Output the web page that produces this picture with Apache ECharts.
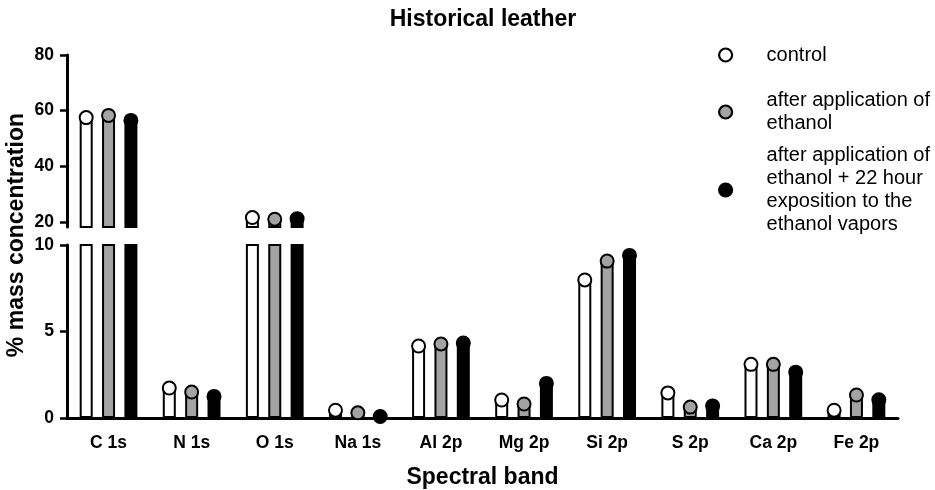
<!DOCTYPE html>
<html>
<head>
<meta charset="utf-8">
<script src="https://cdn.jsdelivr.net/npm/echarts@6/dist/echarts.min.js"></script>
<style>
  html, body { margin: 0; padding: 0; background: #fff; }
  #main { width: 935px; height: 490px; }
</style>
</head>
<body>
<div id="main"></div>
<script>
var categories = ['C 1s', 'N 1s', 'O 1s', 'Na 1s', 'Al 2p', 'Mg 2p', 'Si 2p', 'S 2p', 'Ca 2p', 'Fe 2p'];
var control = [57.5, 1.73, 21.6, 0.45, 4.16, 1.04, 7.98, 1.45, 3.1, 0.45];
var ethanol = [58.3, 1.5, 21.0, 0.3, 4.28, 0.81, 9.07, 0.63, 3.1, 1.33];
var ethanolVapors = [56.5, 1.25, 21.2, 0.05, 4.33, 2.0, 9.4, 0.7, 2.65, 1.05];
var upperTicks = [20, 40, 60, 80];
var lowerTicks = [0, 5, 10];
var upperMin = 18.2;   // axis runs a little below the 20 tick, as in the broken axis

var groups = [
  { name: 'control', label: 'control', data: control, fill: '#ffffff' },
  { name: 'after application of ethanol', label: 'after application of\nethanol', data: ethanol, fill: '#a3a3a3' },
  { name: 'after application of ethanol + 22 hour exposition to the ethanol vapors',
    label: 'after application of\nethanol + 22 hour\nexposition to the\nethanol vapors', data: ethanolVapors, fill: '#000000' }
];

var font = 'Liberation Sans, Arial, sans-serif';
var chart = echarts.init(document.getElementById('main'));

// bars in the upper (20-80) and lower (0-10) parts of the broken axis,
// each topped by a round marker drawn as the bar label
var series = [];
groups.forEach(function (g) {
  var upper = g.data.map(function (v) { return v > upperTicks[0] ? v : '-'; });
  [[0, upper, upperTicks[upperTicks.length - 1]], [1, g.data, lowerTicks[lowerTicks.length - 1]]].forEach(function (p) {
    var top = p[2];
    series.push({
      name: g.name, type: 'bar', xAxisIndex: p[0], yAxisIndex: p[0],
      data: p[1], barWidth: 13, barGap: '72%', clip: true,
      itemStyle: { color: g.fill, borderColor: '#000', borderWidth: 2 },
      label: {
        show: true, position: 'top', distance: -5.5,
        formatter: function (d) { return d.value > top ? '' : '{m| }'; },
        rich: {
          m: { width: 11, height: 11, lineHeight: 11, fontSize: 8, borderRadius: 6,
               backgroundColor: g.fill, borderColor: '#000', borderWidth: 2 }
        }
      }
    });
  });
});

var legendCenters = [55, 112, 190];
var legends = groups.map(function (g, i) {
  var lines = g.label.split('\n').length;
  return {
    orient: 'vertical', left: 718, top: legendCenters[i] - lines * 23 / 2, padding: 0,
    itemWidth: 40, itemHeight: 13, selectedMode: false,
    data: [{ name: g.name, icon: 'circle', itemStyle: { color: g.fill, borderColor: '#000', borderWidth: 2.2 } }],
    formatter: function () { return g.label; },
    textStyle: { fontFamily: font, fontSize: 20, lineHeight: 23, color: '#000', padding: [0, 0, 0, 16] }
  };
});

var yLabel = { fontFamily: font, fontSize: 17.5, fontWeight: 'bold', color: '#000', margin: 13 };
var yLine = { show: true, lineStyle: { color: '#000', width: 3 } };
var yTick = { show: true, length: 7, lineStyle: { color: '#000', width: 2.5 } };

chart.setOption({
  animation: false,
  title: {
    text: 'Historical leather', left: 478, top: 3, textAlign: 'center',
    textStyle: { fontFamily: font, fontSize: 23, fontWeight: 'bold', color: '#000' }
  },
  legend: legends,
  grid: [
    { left: 67, right: 37, top: 55, height: 172 },
    { left: 67, right: 37, top: 245, height: 173 }
  ],
  xAxis: [
    { type: 'category', gridIndex: 0, data: categories, show: false },
    {
      type: 'category', gridIndex: 1, data: categories,
      axisLine: { lineStyle: { color: '#000', width: 3 } },
      axisTick: { length: 8, alignWithLabel: true, lineStyle: { color: '#000', width: 2.5 } },
      axisLabel: { fontFamily: font, fontSize: 17.5, fontWeight: 'bold', color: '#000', margin: 16 },
      name: 'Spectral band', nameLocation: 'middle', nameGap: 48,
      nameTextStyle: { fontFamily: font, fontSize: 23, fontWeight: 'bold', color: '#000' }
    }
  ],
  yAxis: [
    {
      type: 'value', gridIndex: 0, min: upperMin, max: upperTicks[upperTicks.length - 1],
      axisLine: yLine,
      axisTick: Object.assign({ customValues: upperTicks }, yTick),
      axisLabel: Object.assign({ customValues: upperTicks }, yLabel),
      splitLine: { show: false }
    },
    {
      type: 'value', gridIndex: 1, min: lowerTicks[0], max: lowerTicks[lowerTicks.length - 1],
      axisLine: yLine,
      axisTick: Object.assign({ customValues: lowerTicks }, yTick),
      axisLabel: Object.assign({ customValues: lowerTicks }, yLabel),
      splitLine: { show: false }
    }
  ],
  graphic: [{
    type: 'text', left: 5, top: 113, rotation: Math.PI / 2,
    style: { text: '% mass concentration', fontFamily: font, fontSize: 23, fontWeight: 'bold', fill: '#000' }
  }],
  series: series
});
</script>
</body>
</html>
